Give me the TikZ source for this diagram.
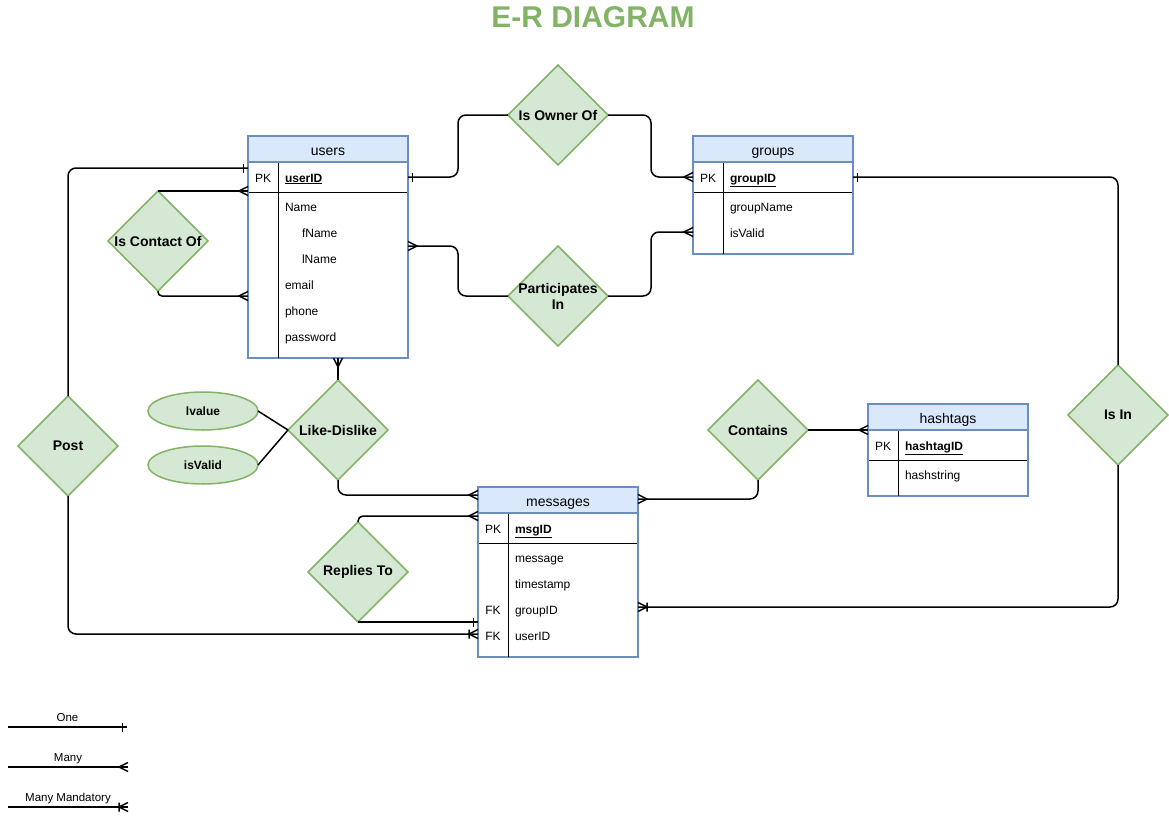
\documentclass[tikz,border=0pt]{standalone}
\usepackage{fontspec}
\setmainfont{Liberation Sans}
\usetikzlibrary{shapes.geometric,decorations.markings,calc}
\definecolor{gfill}{HTML}{D5E8D4}
\definecolor{gline}{HTML}{82B366}
\definecolor{bfill}{HTML}{DAE8FC}
\definecolor{bline}{HTML}{6C8EBF}
\tikzset{
 oneend/.style={postaction={decorate,decoration={markings,mark=at position 1 with {\draw[sharp corners,line width=1.5pt] (-4.5pt,-4.5pt) -- (-4.5pt,4.5pt);}}}},
 manyend/.style={postaction={decorate,decoration={markings,mark=at position 1 with {\draw[sharp corners,line width=1.5pt] (0pt,4.5pt) -- (-9pt,0pt) -- (0pt,-4.5pt);}}}},
 mandend/.style={postaction={decorate,decoration={markings,mark=at position 1 with {\draw[sharp corners,line width=1.5pt] (0pt,4.5pt) -- (-9pt,0pt) -- (0pt,-4.5pt) (-9pt,-4.5pt) -- (-9pt,4.5pt);}}}},
}
\begin{document}
\begin{tikzpicture}[x=1pt,y=-1pt,
 every node/.style={inner sep=0pt, outer sep=0pt},
 rel/.style={diamond, minimum width=100pt, minimum height=100pt, fill=gfill, draw=gline, line width=1.5pt},
 rellabel/.style={font=\fontsize{14}{16}\selectfont\bfseries, align=center},
 attr/.style={ellipse, minimum width=110pt, minimum height=38pt, fill=gfill, draw=gline, line width=1.5pt, font=\fontsize{12}{14}\selectfont\bfseries},
 thead/.style={fill=bfill, minimum width=160pt, minimum height=26pt, anchor=north west, font=\fontsize{14}{16}\selectfont, text height=12pt, text depth=0pt},
 tbox/.style={draw=bline, line width=1.5pt, minimum width=160pt, anchor=north west},
 trow/.style={minimum width=160pt, minimum height=30pt, anchor=north west},
 fld/.style={anchor=west, font=\fontsize{12}{14}\selectfont, text height=10.5pt, text depth=0.5pt},
 keyf/.style={fld, font=\fontsize{12}{14}\selectfont\bfseries},
 divline/.style={line width=0.8pt},
 hline/.style={draw=bline, line width=1.5pt},
 conn/.style={line width=1.5pt, rounded corners=8pt},
 legfont/.style={font=\fontsize{11.5}{13}\selectfont, text height=8.5pt, text depth=2.5pt},
]
\useasboundingbox (0,0) rectangle (1169,816);

\node[font=\fontsize{30}{36}\selectfont\bfseries, text=gline] (title) at (593,17) {E-R DIAGRAM};

% ---------- users ----------
\node[thead] (usershead) at (248,136) {users};
\node[trow] (users-pk) at (248,162) {};
\draw[divline] (users-pk.south west) -- (users-pk.south east);
\node[fld,anchor=center] at (263,177) {PK};
\node[keyf] (users-id) at (285,177) {\underline{userID}};
\node[fld] (users-name) at (285,206) {Name};
\node[fld] (users-fname) at (302,232) {fName};
\node[fld] (users-lname) at (302,258) {lName};
\node[fld] (users-email) at (285,284) {email};
\node[fld] (users-phone) at (285,310) {phone};
\node[fld] (users-pw) at (285,336) {password};
\node[tbox, minimum height=222pt] (usersbox) at (248,136) {};
\draw[divline] ($(users-pk.north west)+(30,0)$) -- ($(usersbox.south west)+(30,0)$);
\draw[hline] (usershead.south west) -- (usershead.south east);

% ---------- groups ----------
\node[thead] (groupshead) at (693,136) {groups};
\node[trow] (groups-pk) at (693,162) {};
\draw[divline] (groups-pk.south west) -- (groups-pk.south east);
\node[fld,anchor=center] at (708,177) {PK};
\node[keyf] (groups-id) at (730,177) {\underline{groupID}};
\node[fld] (groups-name) at (730,206) {groupName};
\node[fld] (groups-valid) at (730,232) {isValid};
\node[tbox, minimum height=118pt] (groupsbox) at (693,136) {};
\draw[divline] ($(groups-pk.north west)+(30,0)$) -- ($(groupsbox.south west)+(30,0)$);
\draw[hline] (groupshead.south west) -- (groupshead.south east);

% ---------- messages ----------
\node[thead] (msghead) at (478,487) {messages};
\node[trow] (msg-pk) at (478,513) {};
\draw[divline] (msg-pk.south west) -- (msg-pk.south east);
\node[fld,anchor=center] at (493,528) {PK};
\node[keyf] (msg-id) at (515,528) {\underline{msgID}};
\node[fld] (msg-message) at (515,557) {message};
\node[fld] (msg-time) at (515,583) {timestamp};
\node[fld,anchor=center] at (493,609) {FK};
\node[fld] (msg-group) at (515,609) {groupID};
\node[fld,anchor=center] at (493,635) {FK};
\node[fld] (msg-user) at (515,635) {userID};
\node[tbox, minimum height=170pt] (msgbox) at (478,487) {};
\draw[divline] ($(msg-pk.north west)+(30,0)$) -- ($(msgbox.south west)+(30,0)$);
\draw[hline] (msghead.south west) -- (msghead.south east);

% ---------- hashtags ----------
\node[thead] (hashhead) at (868,404) {hashtags};
\node[trow] (hash-pk) at (868,430) {};
\draw[divline] (hash-pk.south west) -- (hash-pk.south east);
\node[fld,anchor=center] at (883,445) {PK};
\node[keyf] (hash-id) at (905,445) {\underline{hashtagID}};
\node[fld] (hash-str) at (905,474) {hashstring};
\node[tbox, minimum height=92pt] (hashbox) at (868,404) {};
\draw[divline] ($(hash-pk.north west)+(30,0)$) -- ($(hashbox.south west)+(30,0)$);
\draw[hline] (hashhead.south west) -- (hashhead.south east);

% ---------- relationships ----------
\node[rel, label={[rellabel]center:Is Owner Of}] (owner) at (558,115) {};
\node[rel, label={[rellabel]center:{Participates\\In}}] (part) at (558,296) {};
\node[rel, label={[rellabel]center:Is Contact Of}] (contact) at (158,241) {};
\node[rel, label={[rellabel]center:Like-Dislike}] (like) at (338,430) {};
\node[rel, label={[rellabel]center:Post}] (post) at (68,446) {};
\node[rel, label={[rellabel]center:Contains}] (contains) at (758,430) {};
\node[rel, label={[rellabel]center:Replies To}] (replies) at (358,572) {};
\node[rel, label={[rellabel]center:Is In}] (isin) at (1118,415) {};

\node[attr] (lvalue) at (203,411) {lvalue};
\node[attr] (isvalid) at (203,465) {isValid};

% ---------- connectors ----------
\draw[conn, oneend] (owner.west) -- ++(-50,0) |- (users-pk.east);
\draw[conn, manyend] (owner.east) -- ++(43,0) |- (groups-pk.west);

\draw[conn, manyend] (part.west) -- ++(-50,0) |- (usersbox.east |- part.north);
\draw[conn, manyend] (part.east) -- ++(43,0) |- (groupsbox.west |- groups-valid);

\draw[conn, manyend] (contact.north) -- (usersbox.west |- contact.north);
\draw[conn, rounded corners=4pt, manyend] (contact.south) |- ($(usersbox.west |- users-email)+(0,12)$);

\draw[conn, oneend] (post.north) |- ($(users-pk.west)+(0,-9)$);
\draw[conn, mandend] (post.south) |- ($(msgbox.west |- msg-user)+(0,-1)$);

\draw[conn, manyend] (like.north) -- (like.north |- usersbox.south);
\draw[conn, manyend] (like.south) |- ($(msghead.west)+(0,-5)$);
\draw[line width=1.5pt] (lvalue.east) -- (like.west);
\draw[line width=1.5pt] (isvalid.east) -- (like.west);

\draw[conn, rounded corners=5pt, manyend] (replies.north) |- ($(msg-pk.west)+(0,-12)$);
\draw[conn, oneend] (replies.south) -- (msgbox.west |- replies.south);

\draw[conn, manyend] (contains.east) -- (hashbox.west |- contains.east);
\draw[conn, manyend] (contains.south) |- ($(msghead.east)+(0,-1)$);

\draw[conn, oneend] (isin.north) |- (groups-pk.east);
\draw[conn, mandend] (isin.south) |- ($(msgbox.east |- msg-group)+(0,-2)$);

% ---------- legend ----------
\coordinate (oneA) at (8,727);
\coordinate (oneB) at (127,727);
\coordinate (manyA) at (8,767);
\coordinate (manyB) at (128,767);
\coordinate (mandA) at (8,807);
\coordinate (mandB) at (128,807);
\draw[line width=1.5pt, oneend] (oneA) -- (oneB) node[midway, above=3pt, legfont] {One};
\draw[line width=1.5pt, manyend] (manyA) -- (manyB) node[midway, above=3pt, legfont] {Many};
\draw[line width=1.5pt, mandend] (mandA) -- (mandB) node[midway, above=3pt, legfont] {Many Mandatory};
\end{tikzpicture}
\end{document}
